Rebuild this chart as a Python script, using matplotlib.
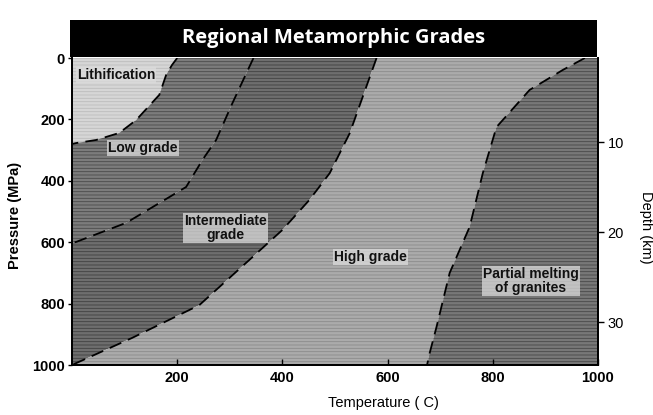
import numpy as np
import matplotlib
matplotlib.use("Agg")
import matplotlib.pyplot as plt

# ---- data ----
# boundary curves: temperature (C) at given pressure (MPa)
litho_P = [0, 23, 55, 120, 202, 244, 267, 277, 280]
litho_T = [200, 190, 179, 166, 122, 90, 46, 8, 0]

low_P = [0, 147, 267, 332, 420, 453, 537, 599, 603]
low_T = [345, 305, 274, 248, 217, 185, 103, 8, 0]

high_P = [0, 245, 375, 463, 560, 658, 805, 912, 990, 1000]
high_T = [579, 528, 490, 451, 400, 337, 242, 114, 13, 0]

melt_P = [0, 39, 104, 225, 375, 550, 700, 876, 961, 1000]
melt_T = [975, 933, 870, 807, 781, 756, 718, 693, 680, 675]

x_ticks = [200, 400, 600, 800, 1000]
y_ticks = [0, 200, 400, 600, 800, 1000]
depth_ticks = [10, 20, 30]

labels = ["Lithification", "Low grade", "Intermediate\ngrade", "High grade",
          "Partial melting\nof granites"]
label_T = [84, 135, 291, 568, 872]
label_P = [55, 293, 554, 648, 726]

title = "Regional Metamorphic Grades"

def depth_to_pressure(d):
    return 29.25 * np.asarray(d) - 17.5

plt.rcParams['font.family'] = ['Liberation Sans', 'DejaVu Sans']
plt.rcParams['hatch.linewidth'] = 0.6

fig = plt.figure(figsize=(6.53, 4.15), dpi=100)
fig.patch.set_facecolor('white')
L, R = 72 / 653, 598 / 653
B, T = 1 - 365 / 415, 1 - 58 / 415
ax = fig.add_axes([L, B, R - L, T - B])
ax.set_xlim(0, 1000)
ax.set_ylim(1000, 0)

def poly(*parts):
    xs, ys = [], []
    for px, py in parts:
        xs += list(px)
        ys += list(py)
    return xs, ys

# regions
reg_litho = poly(([0], [0]), (litho_T, litho_P))
reg_low = poly((litho_T, litho_P), (low_T[::-1], low_P[::-1]))
reg_int = poly((low_T, low_P), ([0], [1000]), (high_T[::-1], high_P[::-1]))
reg_high = poly((high_T, high_P), (melt_T[::-1], melt_P[::-1]))
reg_melt = poly((melt_T, melt_P), ([1000, 1000], [1000, 0]))

fills = [
    (reg_litho, '#d6d6d6', '#bcbcbc'),
    (reg_low, '#7c7c7c', '#4a4a4a'),
    (reg_int, '#6e6e6e', '#404040'),
    (reg_high, '#ababab', '#8a8a8a'),
    (reg_melt, '#787878', '#484848'),
]
for (xs, ys), fc, hc in fills:
    ax.fill(xs, ys, facecolor=fc, edgecolor=hc, hatch='-----', linewidth=0, zorder=1)

for Tc, Pc in [(litho_T, litho_P), (low_T, low_P), (high_T, high_P), (melt_T, melt_P)]:
    ax.plot(Tc, Pc, color='black', lw=1.3, ls=(0, (7, 4)), zorder=3)

for s, tx, py in zip(labels, label_T, label_P):
    ax.text(tx, py, s, ha='center', va='center', fontsize=10, fontweight='bold',
            color='#111111', linespacing=1.0, zorder=4,
            bbox=dict(boxstyle='square,pad=0.08', facecolor='#dcdcdc',
                      edgecolor='none', alpha=0.75))

ax.set_xticks(x_ticks)
ax.set_xticklabels([str(v) for v in x_ticks])
ax.set_yticks(y_ticks)
ax.set_yticklabels([str(v) for v in y_ticks])
ax.tick_params(axis='x', direction='in', length=4, width=1, labelsize=10.5, pad=4)
ax.tick_params(axis='y', direction='out', length=3, width=1, labelsize=10.5, pad=2)
for lab in ax.get_xticklabels() + ax.get_yticklabels():
    lab.set_fontweight('bold')
for sp in ax.spines.values():
    sp.set_linewidth(1.3)
ax.spines['top'].set_visible(False)

ax2 = ax.twinx()
ax2.set_ylim(1000, 0)
ax2.set_yticks(depth_to_pressure(depth_ticks))
ax2.set_yticklabels([str(d) for d in depth_ticks])
ax2.tick_params(axis='y', direction='out', length=4, width=1, labelsize=10.5, pad=3)
ax2.spines['top'].set_visible(False)
for sp in ax2.spines.values():
    sp.set_linewidth(1.3)

# title band
tax = fig.add_axes([70 / 653, 1 - 57 / 415, (597 - 70) / 653, 37 / 415])
tax.set_facecolor('black')
tax.set_xticks([])
tax.set_yticks([])
for sp in tax.spines.values():
    sp.set_visible(False)
tax.text(0.5, 0.5, title, color='white', fontsize=14.5, fontweight='bold',
         ha='center', va='center', transform=tax.transAxes,
         family=['Open Sans', 'DejaVu Sans'])

fig.text(15 / 653, 1 - 215 / 415, "Pressure (MPa)", rotation=90, ha='center', va='center',
         fontsize=10.5, fontweight='bold')
fig.text(646 / 653, 1 - 227 / 415, "Depth (km)", rotation=-90, ha='center', va='center',
         fontsize=10.5)
fig.text(383 / 653, 1 - 403 / 415, "Temperature ( C)", ha='center', va='center',
         fontsize=10.5)

fig.savefig("out.png", dpi=100)
